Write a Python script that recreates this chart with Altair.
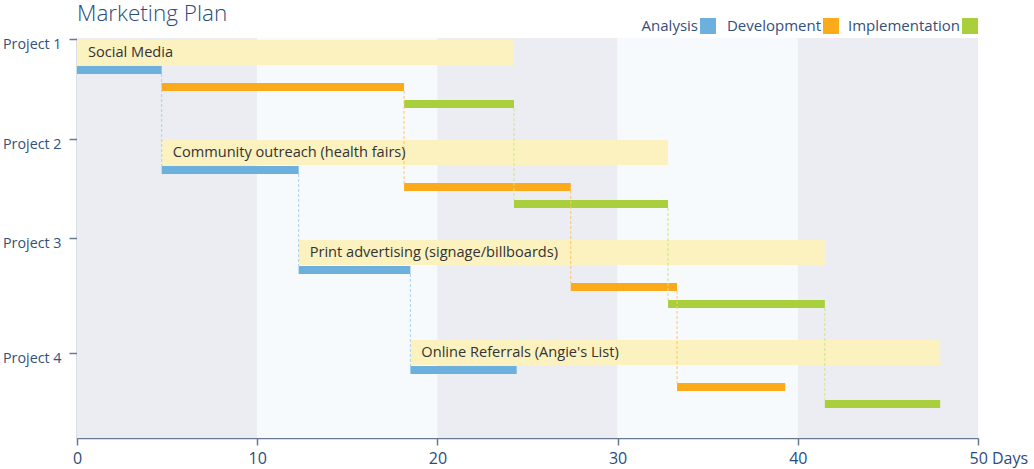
import altair as alt
import pandas as pd

# ---------------- data ----------------
chart_title = "Marketing Plan"
projects = ["Project 1", "Project 2", "Project 3", "Project 4"]
project_names = [
    "Social Media",
    "Community outreach (health fairs)",
    "Print advertising (signage/billboards)",
    "Online Referrals (Angie's List)",
]
phases = ["Analysis", "Development", "Implementation"]
analysis_start = [0, 4.7, 12.3, 18.5]
analysis_end = [4.7, 12.3, 18.5, 24.4]
dev_start = [4.7, 18.15, 27.4, 33.3]
dev_end = [18.15, 27.4, 33.3, 39.3]
impl_start = [18.15, 24.25, 32.8, 41.5]
impl_end = [24.25, 32.8, 41.5, 47.9]
x_ticks = [0, 10, 20, 30, 40, 50]
bg_start = [0, 10, 20, 30, 40]
bg_end = [10, 20, 30, 40, 50]

# ---------------- styles ----------------
FONT = "Open Sans"
TITLE_COLOR = "#2B4C7E"
AXIS_COLOR = "#687A92"
LABEL_COLOR = "#34507A"
phase_colors = ["#6CB0DE", "#FBAA1B", "#AACF3D"]
link_colors = ["#A9D0EE", "#F9C66E", "#CDE38A"]
band_color = "#FBF2C0"
bg_colors = ["#ECEDF2", "#F7FAFC", "#ECEDF2", "#F7FAFC", "#ECEDF2"]
ROW = 100          # vertical units per project
BAND = (2, 27)     # band top/bottom offset
BAR_OFF = [(28, 36), (45, 53), (62, 70)]
project_tick_pos = [1, 101, 200, 315]

# ---------------- tables ----------------
bg = pd.DataFrame({"start": bg_start, "end": bg_end, "color": bg_colors})

bands = pd.DataFrame({
    "project": projects,
    "name": project_names,
    "start": analysis_start,
    "end": impl_end,
    "top": [i * ROW + BAND[0] for i in range(4)],
    "bottom": [i * ROW + BAND[1] for i in range(4)],
})
bands["mid"] = (bands["top"] + bands["bottom"]) / 2

starts = [analysis_start, dev_start, impl_start]
ends = [analysis_end, dev_end, impl_end]
bar_rows = []
link_rows = []
for k, ph in enumerate(phases):
    for i in range(4):
        bar_rows.append({
            "phase": ph, "start": starts[k][i], "end": ends[k][i],
            "top": i * ROW + BAR_OFF[k][0], "bottom": i * ROW + BAR_OFF[k][1],
            "color": phase_colors[k],
        })
        if i < 3:
            link_rows.append({
                "phase": ph, "x": ends[k][i],
                "y1": i * ROW + BAR_OFF[k][1],
                "y2": (i + 1) * ROW + BAR_OFF[k][0],
                "color": link_colors[k],
            })
bars = pd.DataFrame(bar_rows)
links = pd.DataFrame(link_rows)

# ---------------- scales / axes ----------------
xscale = alt.Scale(domain=[0, 50], nice=False, zero=False)
yscale = alt.Scale(domain=[0, 400], reverse=True, nice=False, zero=False)

x_axis = alt.Axis(
    values=x_ticks, title=None, grid=False,
    domainColor=AXIS_COLOR, domainWidth=1.5,
    tickColor=AXIS_COLOR, tickWidth=1.5, tickSize=7,
    labelColor=TITLE_COLOR, labelFont=FONT, labelFontSize=16,
    labelPadding=5,
    labelExpr="datum.value == 50 ? '50 Days' : datum.label",
    labelAlign={"condition": {"test": "datum.value == 50", "value": "left"}, "value": "center"},
    labelOffset={"condition": {"test": "datum.value == 50", "value": -9}, "value": 0},
    labelFlush=False,
)
label_expr = " : ".join(
    f"datum.value == {v} ? '{p}'" for v, p in zip(project_tick_pos, projects)
) + " : ''"
y_axis = alt.Axis(
    values=project_tick_pos, title=None, grid=False,
    domainColor=AXIS_COLOR, domainWidth=1.5,
    tickColor=AXIS_COLOR, tickWidth=1.5, tickSize=8,
    labelColor=LABEL_COLOR, labelFont=FONT, labelFontSize=14.3,
    labelPadding=8, labelBaseline="middle", labelOffset=5,
    labelExpr=label_expr, labelFlush=False,
)


def X(field):
    return alt.X(field, type="quantitative", scale=xscale, axis=x_axis)


def Y(field):
    return alt.Y(field, type="quantitative", scale=yscale, axis=y_axis)


background = alt.Chart(bg).mark_rect().encode(
    x=X("start"), x2="end",
    y=alt.Y(datum=0, type="quantitative", scale=yscale, axis=y_axis),
    y2=alt.Y2(datum=400),
    color=alt.Color("color:N", scale=None),
)

band_layer = alt.Chart(bands).mark_rect(color=band_color).encode(
    x=X("start"), x2="end", y=Y("top"), y2="bottom",
)

bar_layer = alt.Chart(bars).mark_rect().encode(
    x=X("start"), x2="end", y=Y("top"), y2="bottom",
    color=alt.Color("color:N", scale=None),
)

link_layer = alt.Chart(links).mark_rule(strokeDash=[3, 2], strokeWidth=1).encode(
    x=X("x"), y=Y("y1"), y2="y2",
    color=alt.Color("color:N", scale=None),
)

text_layer = alt.Chart(bands).mark_text(
    align="left", baseline="middle", dx=11, font=FONT, fontSize=14.6, color="#333333",
).encode(x=X("start"), y=Y("mid"), text="name:N")

# manual legend (text left of square), right-aligned to plot edge
legend_square_x = [631, 754, 893]
legend_layers = []
for name, col, sx in zip(phases, phase_colors, legend_square_x):
    legend_layers.append(
        alt.Chart(pd.DataFrame({"n": [name]})).mark_square(size=256, opacity=1, color=col).encode(
            x=alt.value(sx), y=alt.value(-12)
        )
    )
    legend_layers.append(
        alt.Chart(pd.DataFrame({"n": [name]})).mark_text(
            align="right", baseline="middle", font=FONT, fontSize=15, color=LABEL_COLOR,
        ).encode(x=alt.value(sx - 10), y=alt.value(-12), text="n:N")
    )

title_layer = alt.Chart(pd.DataFrame({"t": [chart_title]})).mark_text(
    align="left", baseline="alphabetic", font=FONT, fontSize=22.5, fontWeight=300,
    color=TITLE_COLOR,
).encode(x=alt.value(0), y=alt.value(-17), text="t:N")

chart = alt.layer(
    background, band_layer, bar_layer, link_layer, text_layer, title_layer, *legend_layers
).properties(
    width=901, height=400,
    autosize=alt.AutoSizeParams(type="none"),
    padding={"left": 77, "top": 38, "right": 56, "bottom": 31},
).configure_view(stroke=None).resolve_scale(color="independent")

chart.save("out.html", embed_options={"renderer": "svg", "actions": False})
